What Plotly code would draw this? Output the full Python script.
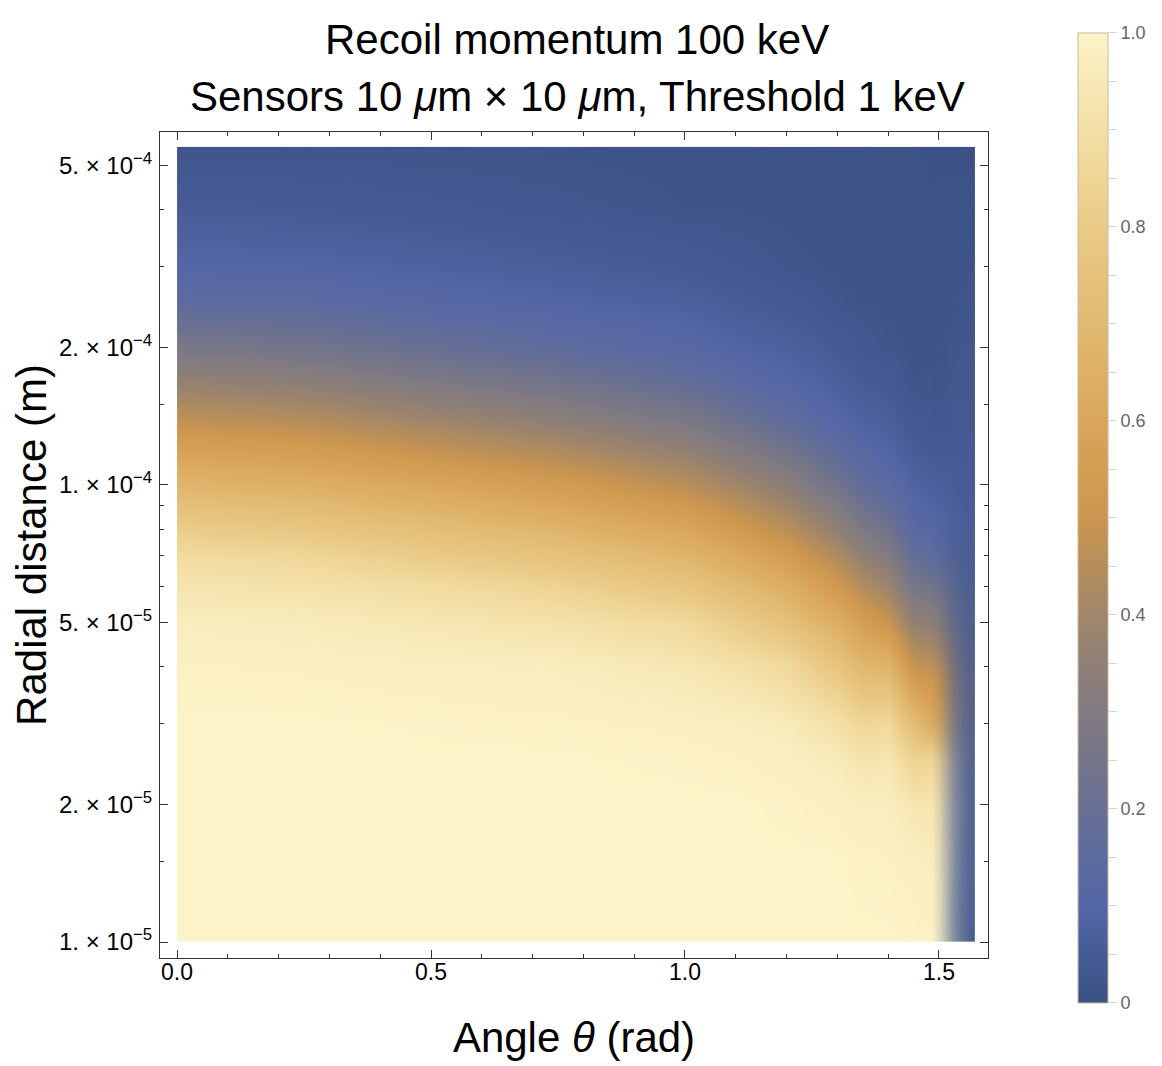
import numpy as np
import plotly.graph_objects as go

# grid
theta = [0.0, 0.25, 0.5, 0.75, 1.0, 1.1, 1.2, 1.3, 1.35, 1.4, 1.45, 1.486, 1.5708]
radius = [1e-5, 1.5e-5, 2e-5, 2.5e-5, 3e-5, 4e-5, 5e-5, 6e-5, 7e-5, 8e-5,
          1e-4, 1.2e-4, 1.4e-4, 1.7e-4, 2e-4, 2.5e-4, 3e-4, 4e-4, 5.5e-4]

# detection probability, one list per angle (bottom -> top in radius)
prob_cols = [
    [1.0, 1.0, 1.0, 1.0, 1.0, 0.99, 0.97, 0.93, 0.88, 0.81, 0.68, 0.57, 0.47, 0.36, 0.27, 0.16, 0.10, 0.055, 0.02],
    [1.0, 1.0, 1.0, 1.0, 1.0, 0.986, 0.96, 0.916, 0.855, 0.78, 0.65, 0.54, 0.444, 0.334, 0.247, 0.146, 0.094, 0.05, 0.019],
    [1.0, 1.0, 1.0, 1.0, 0.996, 0.978, 0.94, 0.885, 0.80, 0.73, 0.60, 0.48, 0.39, 0.283, 0.203, 0.116, 0.079, 0.04, 0.018],
    [1.0, 1.0, 1.0, 1.0, 0.992, 0.97, 0.915, 0.838, 0.75, 0.676, 0.54, 0.427, 0.34, 0.237, 0.16, 0.093, 0.064, 0.03, 0.016],
    [1.0, 1.0, 1.0, 0.995, 0.984, 0.94, 0.87, 0.767, 0.68, 0.60, 0.458, 0.355, 0.27, 0.177, 0.118, 0.073, 0.047, 0.019, 0.014],
    [1.0, 1.0, 1.0, 0.99, 0.975, 0.913, 0.81, 0.709, 0.618, 0.535, 0.399, 0.297, 0.219, 0.138, 0.092, 0.056, 0.036, 0.018, 0.012],
    [1.0, 1.0, 0.995, 0.98, 0.957, 0.871, 0.746, 0.642, 0.547, 0.461, 0.334, 0.238, 0.164, 0.10, 0.073, 0.043, 0.023, 0.016, 0.01],
    [1.0, 1.0, 0.984, 0.956, 0.909, 0.768, 0.64, 0.528, 0.432, 0.356, 0.237, 0.153, 0.10, 0.07, 0.047, 0.023, 0.017, 0.013, 0.009],
    [1.0, 0.993, 0.972, 0.924, 0.852, 0.69, 0.556, 0.441, 0.354, 0.279, 0.171, 0.108, 0.079, 0.05, 0.032, 0.018, 0.015, 0.01, 0.009],
    [1.0, 0.99, 0.975, 0.94, 0.87, 0.68, 0.496, 0.389, 0.302, 0.234, 0.138, 0.089, 0.064, 0.04, 0.022, 0.017, 0.014, 0.01, 0.008],
    [0.997, 0.98, 0.93, 0.84, 0.72, 0.49, 0.36, 0.261, 0.187, 0.135, 0.081, 0.053, 0.036, 0.019, 0.016, 0.013, 0.01, 0.009, 0.007],
    [0.99, 0.97, 0.93, 0.85, 0.62, 0.47, 0.34, 0.24, 0.16, 0.115, 0.07, 0.045, 0.03, 0.02, 0.016, 0.012, 0.01, 0.008, 0.006],
    [0.99, 0.97, 0.93, 0.85, 0.62, 0.47, 0.34, 0.24, 0.16, 0.115, 0.07, 0.045, 0.03, 0.02, 0.016, 0.012, 0.01, 0.008, 0.006],
]

# the last sliver near pi/2 fades into blue (colour blend, not value)
fade_theta = [1.486, 1.50, 1.515, 1.53, 1.545, 1.558, 1.5708]
fade_radius = [1e-5, 1e-4, 5.5e-4]
fade_rows = [
    [0.0, 0.15, 0.42, 0.68, 0.85, 0.94, 1.0],
    [0.0, 0.12, 0.35, 0.55, 0.70, 0.80, 0.85],
    [0.0, 0.0, 0.0, 0.0, 0.0, 0.0, 0.0],
]

x_ticks = [0.0, 0.5, 1.0, 1.5]
x_labels = ['0.0', '0.5', '1.0', '1.5']
x_minor = [0.1, 0.2, 0.3, 0.4, 0.6, 0.7, 0.8, 0.9, 1.1, 1.2, 1.3, 1.4]
y_ticks = [1e-5, 2e-5, 5e-5, 1e-4, 2e-4, 5e-4]
y_labels = ['1. × 10<sup>−5</sup>', '2. × 10<sup>−5</sup>', '5. × 10<sup>−5</sup>',
            '1. × 10<sup>−4</sup>', '2. × 10<sup>−4</sup>', '5. × 10<sup>−4</sup>']
y_minor = [1.5e-5, 3e-5, 4e-5, 6e-5, 7e-5, 8e-5, 9e-5, 1.5e-4, 3e-4, 4e-4]
cb_ticks = [0, 0.05, 0.1, 0.15, 0.2, 0.25, 0.3, 0.35, 0.4, 0.45, 0.5,
            0.55, 0.6, 0.65, 0.7, 0.75, 0.8, 0.85, 0.9, 0.95, 1.0]
cb_labels = ['0', '', '', '', '0.2', '', '', '', '0.4', '', '', '',
             '0.6', '', '', '', '0.8', '', '', '', '1.0']

# Mathematica-like default density gradient
scale = [
    [0.0, '#3a5183'], [0.05, '#475c97'], [0.1, '#5466a6'], [0.15, '#5c6b9f'],
    [0.2, '#676f94'], [0.25, '#747589'], [0.3, '#827b82'], [0.35, '#8f7f76'],
    [0.4, '#a1866a'], [0.45, '#b68e5c'], [0.5, '#ca9650'], [0.55, '#d49d52'],
    [0.6, '#d9a75c'], [0.7, '#e1b970'], [0.8, '#eacb87'], [0.9, '#f3dfa5'],
    [1.0, '#fcf3c8'],
]
fade_scale = [[0.0, 'rgba(70,91,146,0)'], [1.0, 'rgba(70,91,146,1)']]

z = np.array(prob_cols).T

font = 'Liberation Sans, Arial, sans-serif'

fig = go.Figure()
fig.add_trace(go.Contour(
    x=theta, y=radius, z=z,
    zmin=0, zmax=1, colorscale=scale,
    contours=dict(coloring='heatmap', showlines=False),
    ncontours=40, line=dict(width=0),
    colorbar=dict(
        x=1.1087, xanchor='left', y=1.1199, yanchor='top',
        len=1.1743, lenmode='fraction', thickness=30,
        outlinewidth=1, outlinecolor='#c8bca0', ypad=0, xpad=0,
        tickmode='array', tickvals=cb_ticks, ticktext=cb_labels,
        ticks='outside', ticklen=9, tickcolor='#d6d6d6',
        tickfont=dict(family=font, size=18, color='#666666'),
    ),
))
fig.add_trace(go.Contour(
    x=fade_theta, y=fade_radius, z=fade_rows,
    zmin=0, zmax=1, colorscale=fade_scale, showscale=False,
    contours=dict(coloring='heatmap', showlines=False),
    ncontours=10, line=dict(width=0), hoverinfo='skip',
))

axis_common = dict(
    showline=True, linecolor='#333333', linewidth=1, mirror='allticks',
    ticks='inside', ticklen=8, tickcolor='#333333', showgrid=False, zeroline=False,
    tickfont=dict(family=font, size=23, color='#000000'),
)

fig.update_xaxes(
    range=[-0.0335, 1.5965], tickmode='array', tickvals=x_ticks, ticktext=x_labels,
    minor=dict(tickmode='array', tickvals=x_minor, ticklen=4, tickcolor='#333333', ticks='inside'),
    ticklabelstandoff=-7,
    title=dict(text='Angle <i>θ</i> (rad)', font=dict(family=font, size=42, color='#000000'), standoff=39),
    **axis_common,
)
fig.update_yaxes(
    type='log', range=[-5.035, -3.2276], tickmode='array', tickvals=y_ticks, ticktext=y_labels,
    minor=dict(tickmode='array', tickvals=y_minor, ticklen=4, tickcolor='#333333', ticks='inside'),
    ticklabelstandoff=2,
    title=dict(text='Radial distance (m)', font=dict(family=font, size=42, color='#000000'), standoff=13),
    **axis_common,
)
fig.update_yaxes(tickfont=dict(family=font, size=24, color='#000000'))

title_lines = ['Recoil momentum 100 keV',
               'Sensors 10 <i>μ</i>m × 10 <i>μ</i>m, Threshold 1 keV']
for txt, ty in zip(title_lines, [1.1114, 1.0424]):
    fig.add_annotation(text=txt, xref='paper', yref='paper', x=0.504, y=ty,
                       xanchor='center', yanchor='middle', showarrow=False,
                       font=dict(family=font, size=42, color='#000000'))

fig.update_layout(
    width=1154, height=1058,
    margin=dict(l=152, r=174, t=124, b=108, autoexpand=False),
    plot_bgcolor='white', paper_bgcolor='white',
)

fig.write_html("out.html")
